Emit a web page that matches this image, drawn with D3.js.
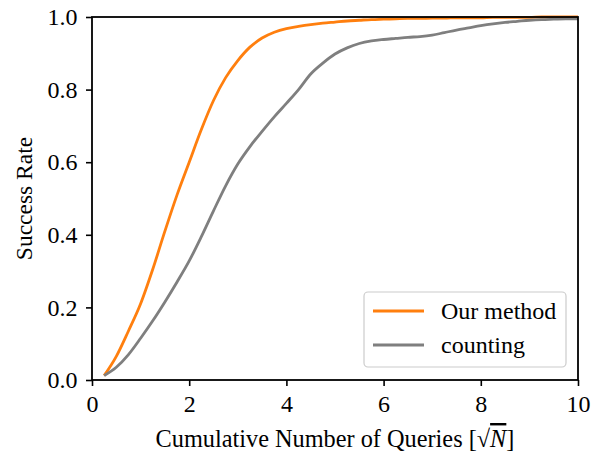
<!DOCTYPE html>
<html>
<head>
<meta charset="utf-8">
<script src="https://cdn.jsdelivr.net/npm/d3@7"></script>
</head>
<body style="margin:0;padding:0;background:#fff">
<div id="chart"></div>
<script>
// ---- data ----
const queries = [0.25, 0.5, 0.75, 1.0, 1.25, 1.5, 1.75, 2.0, 2.25, 2.5, 2.75, 3.0, 3.25, 3.5, 3.75, 4.0,
  4.25, 4.5, 4.75, 5.0, 5.25, 5.5, 5.75, 6.0, 6.25, 6.5, 6.75, 7.0, 7.25, 7.5, 7.75, 8.0,
  8.25, 8.5, 8.75, 9.0, 9.25, 9.5, 9.75, 10.0];
const ourMethod = [0.012, 0.065, 0.135, 0.21, 0.305, 0.41, 0.51, 0.60, 0.69, 0.77, 0.833, 0.88, 0.917, 0.942, 0.958, 0.968,
  0.974, 0.979, 0.983, 0.986, 0.989, 0.991, 0.993, 0.994, 0.995, 0.996, 0.996, 0.997, 0.997, 0.998, 0.998, 0.998,
  0.999, 0.999, 0.999, 0.999, 1.0, 1.0, 1.0, 1.0];
const counting = [0.012, 0.035, 0.07, 0.115, 0.163, 0.215, 0.27, 0.328, 0.395, 0.466, 0.535, 0.595, 0.643, 0.685, 0.725, 0.762,
  0.8, 0.843, 0.873, 0.898, 0.915, 0.927, 0.934, 0.938, 0.941, 0.944, 0.946, 0.95, 0.957, 0.964, 0.97, 0.976,
  0.981, 0.985, 0.988, 0.991, 0.993, 0.994, 0.995, 0.995];
const seriesNames = ["Our method", "counting"];
const seriesColors = ["#ff7f0e", "#7f7f7f"];
const xTicks = [0, 2, 4, 6, 8, 10];
const yTicks = [0.0, 0.2, 0.4, 0.6, 0.8, 1.0];

// ---- layout ----
const W = 602, H = 454;
const m = { left: 92, right: 24, top: 17, bottom: 74 };
const FONT = '"Liberation Serif"';

const svg = d3.select("#chart").append("svg")
  .attr("width", W).attr("height", H)
  .style("display", "block")
  .style("font-family", FONT);

const x = d3.scaleLinear().domain([0, 10]).range([m.left, W - m.right]);
const y = d3.scaleLinear().domain([0, 1]).range([H - m.bottom, m.top]);

// lines
const series = [ourMethod, counting];
const line = d3.line().x((d, i) => x(queries[i])).y(d => y(d)).curve(d3.curveMonotoneX);
series.forEach((vals, k) => {
  svg.append("path")
    .datum(vals)
    .attr("fill", "none")
    .attr("stroke", seriesColors[k])
    .attr("stroke-width", 2.8)
    .attr("stroke-linejoin", "round")
    .attr("d", line);
});

// axes
const tickFont = 24;
const xAxis = svg.append("g").attr("transform", `translate(0,${H - m.bottom})`)
  .call(d3.axisBottom(x).tickValues(xTicks).tickFormat(d3.format("d")).tickSizeOuter(0).tickSize(6).tickPadding(9));
const yAxis = svg.append("g").attr("transform", `translate(${m.left},0)`)
  .call(d3.axisLeft(y).tickValues(yTicks).tickFormat(d3.format(".1f")).tickSizeOuter(0).tickSize(6).tickPadding(8.5));
[xAxis, yAxis].forEach(g => {
  g.attr("font-family", null).attr("font-size", null).style("font-family", FONT);
  g.select(".domain").remove();
  g.selectAll(".tick line").attr("stroke", "#000").attr("stroke-width", 1.6);
  g.selectAll(".tick text")
    .style("font-family", FONT)
    .style("font-size", tickFont + "px")
    .attr("fill", "#000");
});

// frame (spines)
svg.append("rect")
  .attr("x", x(0)).attr("y", y(1))
  .attr("width", x(10) - x(0)).attr("height", y(0) - y(1))
  .attr("fill", "none").attr("stroke", "#000").attr("stroke-width", 1.8);

// axis labels
const xl = svg.append("text")
  .attr("x", (x(0) + x(10)) / 2).attr("y", 447)
  .attr("text-anchor", "middle")
  .style("font-family", FONT)
  .style("font-size", "24.3px");
xl.append("tspan").text("Cumulative Number of Queries [");
xl.append("tspan").text("\u221A");
xl.append("tspan").style("font-style", "italic").style("text-decoration", "overline").text("N");
xl.append("tspan").text("]");

svg.append("text")
  .attr("transform", `translate(31.5,${(y(0) + y(1)) / 2}) rotate(-90)`)
  .attr("text-anchor", "middle")
  .style("font-family", FONT)
  .style("font-size", "23.5px")
  .text("Success Rate");

// legend
const lg = svg.append("g");
const lgX = 364, lgY = 292, lgW = 202, lgH = 75;
lg.append("rect")
  .attr("x", lgX).attr("y", lgY).attr("width", lgW).attr("height", lgH)
  .attr("rx", 4).attr("ry", 4)
  .attr("fill", "#fff").attr("fill-opacity", 0.8)
  .attr("stroke", "#cccccc").attr("stroke-width", 1.2);
seriesNames.forEach((name, i) => {
  const cy = lgY + 19 + i * 34;
  lg.append("line")
    .attr("x1", lgX + 9).attr("x2", lgX + 60)
    .attr("y1", cy).attr("y2", cy)
    .attr("stroke", seriesColors[i]).attr("stroke-width", 2.8);
  lg.append("text")
    .attr("x", lgX + 77).attr("y", cy + 8)
    .style("font-family", FONT)
    .style("font-size", "24px")
    .text(name);
});
</script>
</body>
</html>
